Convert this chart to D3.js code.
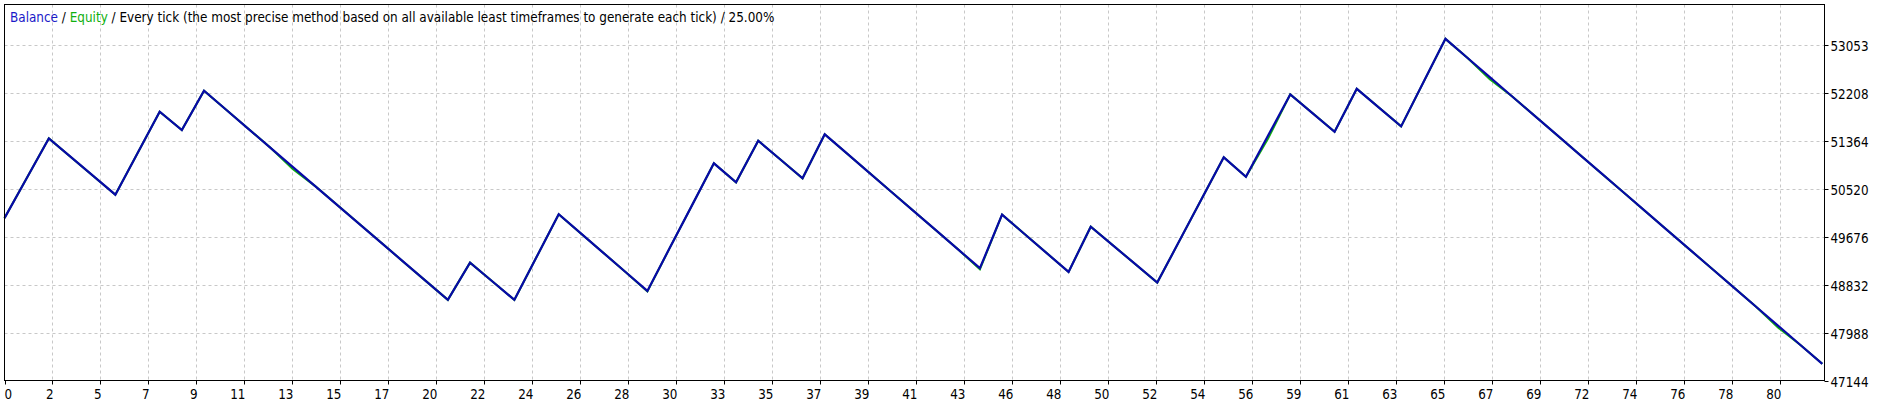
<!DOCTYPE html>
<html>
<head>
<meta charset="utf-8">
<script src="https://cdn.jsdelivr.net/npm/d3@7"></script>
<style>
  html, body { margin: 0; padding: 0; background: #fff; }
  svg { display: block; }
  text { font-family: "DejaVu Sans Condensed", "DejaVu Sans", sans-serif; }
</style>
</head>
<body>
<svg id="chart" width="1889" height="404"></svg>
<script>
// ---- data ----
const trades = d3.range(0, 83);
const balance = [
  50000, 50701, 51402, 51072, 50742, 50412, 51141, 51870, 51548, 52239,
  51905, 51570, 51236, 50902, 50567, 50233, 49899, 49565, 49230, 48896,
  48562, 49217, 48890, 48562, 49315, 50067, 49730, 49394, 49057, 48720,
  49468, 50215, 50963, 50629, 51360, 51030, 50700, 51473, 51137, 50800,
  50464, 50128, 49792, 49455, 49119, 50060, 49725, 49389, 49054, 49849,
  49521, 49194, 48866, 49600, 50335, 51069, 50728, 51452, 52175, 51847,
  51518, 52274, 51944, 51613, 52383, 53152, 52816, 52480, 52143, 51807,
  51471, 51135, 50799, 50463, 50126, 49790, 49454, 49118, 48782, 48446,
  48109, 47773, 47437
];
const equity = [
  50000, 50701, 51402, 51072, 50742, 50412, 51141, 51870, 51548, 52239,
  51905, 51570, 51236, 50862, 50567, 50233, 49899, 49565, 49230, 48896,
  48562, 49217, 48890, 48562, 49315, 50067, 49730, 49394, 49057, 48710,
  49468, 50215, 50963, 50629, 51360, 51030, 50700, 51473, 51137, 50800,
  50464, 50128, 49792, 49455, 49100, 50060, 49725, 49389, 49054, 49849,
  49521, 49194, 48866, 49600, 50335, 51069, 50728, 51400, 52175, 51847,
  51518, 52274, 51944, 51613, 52383, 53152, 52816, 52440, 52143, 51807,
  51471, 51135, 50799, 50463, 50126, 49790, 49454, 49118, 48782, 48446,
  48075, 47773, 47437
];
const yTicks = [47144, 47988, 48832, 49676, 50520, 51364, 52208, 53053];
const xTickLabels = ["0","2","5","7","9","11","13","15","17","20","22","24","26","28",
  "30","33","35","37","39","41","43","46","48","50","52","54","56","59","61","63",
  "65","67","69","72","74","76","78","80"];
const tradesPerGrid = 2.1651;
const legendParts = [
  {text: "Balance", color: "#1a1ac8"},
  {text: " / ", color: "#000"},
  {text: "Equity", color: "#10b010"},
  {text: " / Every tick (the most precise method based on all available least timeframes to generate each tick) / 25.00%", color: "#000"}
];

// ---- layout ----
const L = 4.5, R = 1824.5, T = 4.5, B = 380.5;
const svg = d3.select("#chart");
const x = d3.scaleLinear().domain([0, 82]).range([L, 1822.3]);
const y = d3.scaleLinear().domain([47144, 53053]).range([B, 44.5]);

// grid
const gridColor = "#c8c8c8";
const g = svg.append("g");
g.selectAll("line.vg").data(xTickLabels.slice(1)).join("line")
  .attr("x1", (d, i) => Math.round(x((i + 1) * tradesPerGrid)) + 0.5)
  .attr("x2", (d, i) => Math.round(x((i + 1) * tradesPerGrid)) + 0.5)
  .attr("y1", T).attr("y2", B)
  .attr("stroke", gridColor).attr("stroke-dasharray", "3,3").attr("stroke-width", 1);
g.selectAll("line.hg").data(yTicks.slice(1)).join("line")
  .attr("x1", L).attr("x2", R)
  .attr("y1", d => Math.round(y(d)) + 0.5).attr("y2", d => Math.round(y(d)) + 0.5)
  .attr("stroke", gridColor).attr("stroke-dasharray", "3,3").attr("stroke-width", 1);

// lines
const line = d3.line().x((d, i) => x(trades[i])).y(d => y(d));
svg.append("path").datum(equity).attr("d", line)
  .attr("fill", "none").attr("stroke", "#10b010").attr("stroke-width", 2);
svg.append("path").datum(balance).attr("d", line)
  .attr("fill", "none").attr("stroke", "#0808a8").attr("stroke-width", 2.2);

// frame
svg.append("rect").attr("x", L).attr("y", T).attr("width", R - L).attr("height", B - T)
  .attr("fill", "none").attr("stroke", "#000").attr("stroke-width", 1);

// right axis
const fs = 13.3;
const ya = svg.append("g");
ya.selectAll("line").data(yTicks).join("line")
  .attr("x1", R).attr("x2", R + 4)
  .attr("y1", d => Math.round(y(d)) + 0.5).attr("y2", d => Math.round(y(d)) + 0.5)
  .attr("stroke", "#000");
ya.selectAll("text").data(yTicks).join("text")
  .attr("x", R + 6).attr("y", d => y(d) + 6)
  .attr("font-size", fs).attr("fill", "#000")
  .text(d => d);

// bottom axis
const xa = svg.append("g");
xa.selectAll("line").data(xTickLabels).join("line")
  .attr("x1", (d, i) => Math.round(x(i * tradesPerGrid)) + 0.5)
  .attr("x2", (d, i) => Math.round(x(i * tradesPerGrid)) + 0.5)
  .attr("y1", B).attr("y2", B + 4)
  .attr("stroke", "#000");
xa.selectAll("text").data(xTickLabels).join("text")
  .attr("x", (d, i) => i === 0 ? L : x(i * tradesPerGrid) + 1)
  .attr("y", 399)
  .attr("text-anchor", (d, i) => i === 0 ? "start" : "end")
  .attr("font-size", fs).attr("fill", "#000")
  .text(d => d);

// legend (fit to the reference's measured width)
const lg = svg.append("text").attr("x", 10).attr("y", 22).attr("font-size", 13);
lg.selectAll("tspan").data(legendParts).join("tspan")
  .attr("fill", d => d.color).text(d => d.text);
const w = lg.node().getComputedTextLength();
lg.attr("font-size", 13 * 765 / w);
</script>
</body>
</html>
